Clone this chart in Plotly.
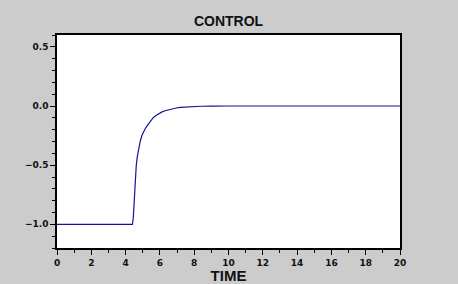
import plotly.graph_objects as go

time = [0, 4.40, 4.45, 4.50, 4.55, 4.62, 4.68, 4.75, 4.85, 4.95, 5.05, 5.15, 5.25, 5.34, 5.45, 5.60, 5.75, 5.92, 6.10, 6.30, 6.50, 6.70, 6.95, 7.20, 7.50, 7.86, 8.4, 9.0, 10.0, 20.0]
control = [-1.0, -1.0, -0.94, -0.78, -0.62, -0.506, -0.43, -0.364, -0.30, -0.25, -0.215, -0.19, -0.168, -0.151, -0.128, -0.10, -0.082, -0.066, -0.052, -0.040, -0.031, -0.023, -0.017, -0.012, -0.008, -0.004, -0.002, -0.001, 0.0, 0.0]

x_ticks = list(range(0, 21, 2))
y_ticks = [-1.0, -0.5, 0.0, 0.5]

fig = go.Figure()
fig.add_trace(go.Scatter(x=time, y=control, mode="lines",
                         line=dict(color="#14149a", width=1.2),
                         showlegend=False, hoverinfo="skip"))

tickfont = dict(family="DejaVu Sans", size=9, color="#111111", weight="bold")

fig.update_layout(
    width=458, height=284,
    paper_bgcolor="#cccccc", plot_bgcolor="#ffffff",
    margin=dict(l=57, r=58, t=35, b=36, autoexpand=False),
    title=dict(text="CONTROL", x=0.499, xanchor="center", y=1 - 21 / 284, yanchor="middle",
               font=dict(family="Liberation Sans", size=14, color="#111111", weight="bold")),
    xaxis=dict(range=[0, 20], tickvals=x_ticks, ticktext=[str(v) for v in x_ticks],
               ticks="outside", ticklen=5, tickwidth=1, tickcolor="black",
               minor=dict(dtick=1, ticks="outside", ticklen=3, tickcolor="black", showgrid=False),
               showline=True, linecolor="black", linewidth=1.5, mirror=True,
               showgrid=False, zeroline=False, tickfont=tickfont, automargin=False,
               title=dict(text="TIME", standoff=0,
                          font=dict(family="Liberation Sans", size=15, color="#111111", weight="bold"))),
    yaxis=dict(range=[-1.2, 0.6], tickvals=y_ticks, ticktext=[f"{v:.1f}".replace("-", "−") for v in y_ticks],
               ticks="outside", ticklen=5, tickwidth=1, tickcolor="black",
               minor=dict(dtick=0.1, tick0=0, ticks="outside", ticklen=3, tickcolor="black", showgrid=False),
               showline=True, linecolor="black", linewidth=1.5, mirror=True,
               showgrid=False, zeroline=False, tickfont=tickfont, automargin=False),
)

fig.write_html("out.html")
